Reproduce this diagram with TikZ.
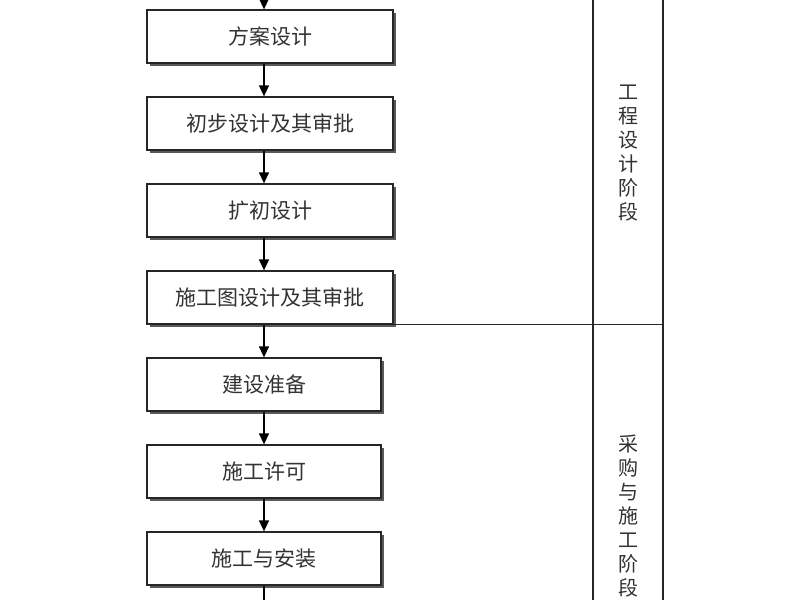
\documentclass[tikz,border=0pt]{standalone}
\usepackage{fontspec}
\setmainfont{Noto Sans CJK SC}
\usetikzlibrary{arrows.meta,shadows}
\begin{document}
\begin{tikzpicture}[x=1pt,y=-1pt,
  stepbox/.style={draw=black!85, line width=1.3pt, fill=white, minimum height=53pt,
    inner sep=0pt, font=\fontsize{21}{22}\selectfont, text=black!80,
    drop shadow={shadow xshift=3pt, shadow yshift=-3pt, fill=black!65, opacity=1}},
  wide/.style={minimum width=246pt},
  narrow/.style={minimum width=234pt},
  arr/.style={draw=black, line width=1.3pt, -{Triangle[length=11pt,width=10pt]}},
  rule/.style={draw=black!85, line width=1.3pt},
  phase/.style={align=center, text width=24pt, inner sep=0pt, text=black!80,
    font=\fontsize{20}{24}\selectfont}]
\path[fill=white] (0,0) rectangle (800,600);
\useasboundingbox (0,0) rectangle (800,600);
% phase column lines
\coordinate (l1t) at (593,0);
\coordinate (l1b) at (593,600);
\coordinate (l2t) at (663,0);
\coordinate (l2b) at (663,600);
\draw[rule] (l1t) -- (l1b);
\draw[rule] (l2t) -- (l2b);
% boxes
\node[stepbox,wide] (b1) at (270,36.5) {方案设计};
\node[stepbox,wide] (b2) at (270,123.5) {初步设计及其审批};
\node[stepbox,wide] (b3) at (270,210.5) {扩初设计};
\node[stepbox,wide] (b4) at (270,297.5) {施工图设计及其审批};
\node[stepbox,narrow] (b5) at (264,384.5) {建设准备};
\node[stepbox,narrow] (b6) at (264,471.5) {施工许可};
\node[stepbox,narrow] (b7) at (264,558.5) {施工与安装};
% separator
\draw[rule] (b4.south east) -- (b4.south east -| l2t);
% arrows
\coordinate (ax) at (264,0);
\coordinate (bx) at (264,600);
\draw[arr] (ax) -- (ax |- b1.north);
\draw[arr] (b1.south -| ax) -- (b2.north -| ax);
\draw[arr] (b2.south -| ax) -- (b3.north -| ax);
\draw[arr] (b3.south -| ax) -- (b4.north -| ax);
\draw[arr] (b4.south -| ax) -- (b5.north -| ax);
\draw[arr] (b5.south -| ax) -- (b6.north -| ax);
\draw[arr] (b6.south -| ax) -- (b7.north -| ax);
\draw[rule,draw=black] (b7.south -| ax) -- (bx);
% phase labels
\node[phase] (p1) at (628,153) {工\\程\\设\\计\\阶\\段};
\node[phase] (p2) at (628,516) {采\\购\\与\\施\\工\\阶\\段};
\end{tikzpicture}
\end{document}
